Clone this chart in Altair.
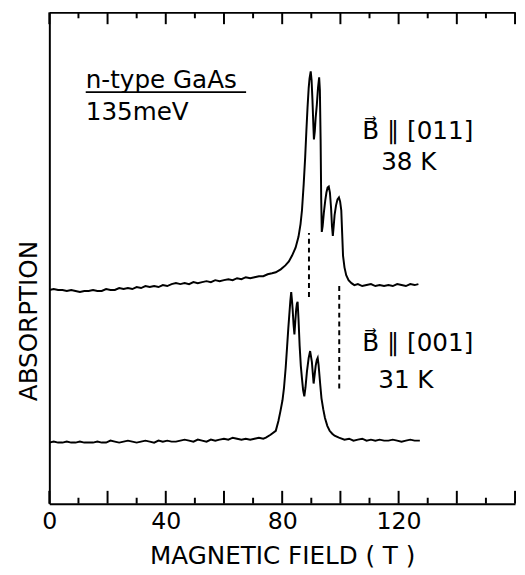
import altair as alt
import pandas as pd

# ---- data ----
upper_x = [0, 1.5, 3, 4.5, 6, 7.5, 9, 10.5, 12, 13.5, 15, 16.5, 18, 19.5, 21, 22.5, 24, 25.5, 27, 28.5,
           30, 31.5, 33, 34.5, 36, 37.5, 39, 40.5, 42, 43.5, 45, 46.5, 48, 49.5, 51, 52.5, 54, 55.5, 57, 58.5,
           60, 61.5, 63, 64.5, 66, 67.5, 69, 70.5, 72, 73.5, 75, 76.5, 77.8, 79.5, 81.1, 82.3, 83.4, 84.6, 85.6, 86.3,
           86.8, 87.4, 87.9, 88.3, 88.7, 89.1, 89.4, 89.8, 90.1, 90.4, 90.7, 90.9, 91.2, 91.5, 91.9, 92.3, 92.7, 92.95,
           93.2, 93.4, 93.6, 93.9, 94.3, 94.8, 95.2, 95.6, 96.0, 96.4, 96.8, 97.1, 97.4, 97.7, 98.0, 98.5, 99.0, 99.5,
           99.9, 100.3, 100.6, 100.9, 101.4, 102.0, 102.8, 103.8, 104.8, 106, 107.5, 109, 110.5, 112, 113.5, 115,
           116.5, 118, 119.5, 121, 122.5, 124, 125.5, 126.8]
upper_y = [217, 218, 217, 217, 216, 217, 216, 215, 216, 216, 217, 216, 216, 218, 217, 217, 219, 218, 219, 218,
           220, 219, 221, 220, 221, 220, 222, 221, 223, 224, 223, 224, 223, 225, 224, 225, 226, 225, 227, 226,
           227, 228, 227, 229, 228, 230, 229, 230, 231, 231, 233, 234, 235, 238, 242, 246, 252, 260, 271, 284,
           298, 325, 352, 378, 402, 422, 432, 439, 430, 410, 385, 370, 378, 392, 405, 422, 433, 420,
           370, 310, 276, 282, 295, 308, 316, 321, 322, 316, 300, 282, 272, 282, 293, 303, 309, 311,
           307, 298, 275, 252, 240, 232, 227, 224, 222, 223, 221, 222, 223, 221, 222, 221,
           222, 221, 223, 222, 221, 223, 222, 223]

lower_x = [0, 1.5, 3, 4.5, 6, 7.5, 9, 10.5, 12, 13.5, 15, 16.5, 18, 19.5, 21, 22.5, 24, 25.5, 27, 28.5,
           30, 31.5, 33, 34.5, 36, 37.5, 39, 40.5, 42, 43.5, 45, 46.5, 48, 49.5, 51, 52.5, 54, 55.5, 57, 58.5,
           60, 61.5, 63, 64.5, 66, 67.5, 69, 70.5, 72, 73.5, 74.4, 76, 77.8, 78.7, 79.4, 80.1, 80.6, 81.2, 81.7, 82.1,
           82.5, 82.8, 83.1, 83.4, 83.6, 83.9, 84.2, 84.5, 84.8, 85.05, 85.3, 85.6, 86.0, 86.4, 86.8, 87.2, 87.6, 88.0,
           88.5, 89.1, 89.6, 90.2, 90.8, 91.2, 91.5, 91.9, 92.2, 92.5, 92.7, 93.1, 93.5, 94.1, 94.7, 95.5, 96.3, 97.2,
           98.0, 99.5, 101.4, 103, 104.5, 106, 107.5, 109, 110.5, 112, 113.5, 115, 116.5, 118, 119.5, 121, 122.5,
           124, 125.5, 127.3]
lower_y = [62, 63, 62, 62, 63, 62, 62, 63, 62, 62, 62, 63, 62, 62, 64, 63, 62, 63, 64, 63,
           62, 63, 64, 63, 62, 64, 63, 64, 63, 63, 64, 65, 64, 63, 65, 64, 63, 65, 64, 65,
           66, 65, 67, 66, 65, 66, 65, 66, 67, 66, 67, 70, 74, 84, 94, 105, 117, 138, 160, 178,
           194, 206, 215, 205, 197, 182, 172, 185, 197, 203, 205, 188, 160, 140, 127, 115, 109, 118,
           134, 148, 155, 144, 122, 132, 140, 146, 148, 141, 134, 120, 107, 96, 87, 79, 74, 71,
           69, 67, 65, 66, 64, 65, 66, 64, 65, 64, 65, 64, 64, 65, 64, 63, 64,
           65, 64, 64]

dash_x = [89.2, 99.6]
dash_y_start = [210, 117]
dash_y_end = [275, 224]

major_ticks = [0, 20, 40, 60, 80, 100, 120, 140, 160]
minor_ticks = [10, 30, 50, 70, 90, 110, 130, 150]
x_labels = [0, 40, 80, 120]

note_text = ["n-type GaAs", "135meV", "B\u20d7 \u2225 [011]", "38 K", "B\u20d7 \u2225 [001]", "31 K"]
note_x = [12.5, 12.5, 107.5, 114, 107.5, 113]
note_y = [422, 390, 370, 339, 155, 117]

underline_x = [12.5]
underline_x2 = [67.6]
underline_y = [418]

W, H = 473, 499
FONT = "DejaVu Sans"

curves = pd.DataFrame({
    "field": upper_x + lower_x,
    "absorption": upper_y + lower_y,
    "series": ["[011] 38 K"] * len(upper_x) + ["[001] 31 K"] * len(lower_x),
})
dashes = pd.DataFrame({"field": dash_x, "y1": dash_y_start, "y2": dash_y_end})
notes = pd.DataFrame({"field": note_x, "absorption": note_y, "text": note_text})
uline = pd.DataFrame({"x1": underline_x, "x2": underline_x2, "y": underline_y})
majors = pd.DataFrame({"t": major_ticks})
minors = pd.DataFrame({"t": minor_ticks})

xscale = alt.Scale(domain=[0, 160], nice=False, zero=False)
yscale = alt.Scale(domain=[0, H], nice=False, zero=False)

lines = alt.Chart(curves).mark_line(color="black", strokeWidth=2, interpolate="linear").encode(
    x=alt.X("field:Q", scale=xscale,
            axis=alt.Axis(orient="bottom", values=x_labels, ticks=False, domain=True, domainColor="black",
                          domainWidth=2, labelFont=FONT, labelFontSize=24, labelColor="black", labelPadding=6,
                          labelFlush=False,
                          title="MAGNETIC FIELD ( T )", titleFont=FONT, titleFontSize=25,
                          titleFontWeight="normal", titleColor="black", titlePadding=11, grid=False)),
    y=alt.Y("absorption:Q", scale=yscale,
            axis=alt.Axis(orient="left", ticks=False, labels=False, domain=True, domainColor="black",
                          domainWidth=2, grid=False, title="ABSORPTION", titleFont=FONT, titleFontSize=25,
                          titleFontWeight="normal", titleColor="black", titleAngle=-90,
                          titleX=-13, titleY=313, titleBaseline="alphabetic", titleAlign="center")),
    detail="series:N",
)

dash_layer = alt.Chart(dashes).mark_rule(color="black", strokeWidth=2, strokeDash=[5, 4]).encode(
    x=alt.X("field:Q", scale=xscale, axis=None),
    y=alt.Y("y1:Q", scale=yscale, axis=None),
    y2="y2:Q",
)

text_layer = alt.Chart(notes).mark_text(align="left", baseline="alphabetic", font=FONT, fontSize=25,
                                        color="black").encode(
    x=alt.X("field:Q", scale=xscale, axis=None),
    y=alt.Y("absorption:Q", scale=yscale, axis=None),
    text="text:N",
)

uline_layer = alt.Chart(uline).mark_rule(color="black", strokeWidth=2).encode(
    x=alt.X("x1:Q", scale=xscale, axis=None),
    x2="x2:Q",
    y=alt.Y("y:Q", scale=yscale, axis=None),
)

# inward ticks, bottom and top; top layer also carries the top frame line
bottom_major = alt.Chart(majors).mark_rule(color="black", strokeWidth=2).encode(
    x=alt.X("t:Q", scale=xscale, axis=None), y=alt.value(H), y2=alt.value(H - 13))
bottom_minor = alt.Chart(minors).mark_rule(color="black", strokeWidth=2).encode(
    x=alt.X("t:Q", scale=xscale, axis=None), y=alt.value(H), y2=alt.value(H - 6))
top_major = alt.Chart(majors).mark_rule(color="black", strokeWidth=2).encode(
    x=alt.X("t:Q", scale=xscale,
            axis=alt.Axis(orient="top", ticks=False, labels=False, domain=True, domainColor="black",
                          domainWidth=2, title=None, grid=False)),
    y=alt.value(0), y2=alt.value(12))
top_minor = alt.Chart(minors).mark_rule(color="black", strokeWidth=2).encode(
    x=alt.X("t:Q", scale=xscale, axis=None), y=alt.value(0), y2=alt.value(6))

chart = alt.layer(lines, dash_layer, uline_layer, text_layer, bottom_major, bottom_minor, top_major, top_minor
                  ).resolve_axis(x="independent", y="independent").properties(
    width=W, height=H,
    autosize=alt.AutoSizeParams(type="none"),
    padding={"left": 42, "top": 0, "right": 2, "bottom": 66},
    background="white",
).configure_view(stroke=None)

chart.save("out.html", embed_options={"renderer": "svg", "actions": False})
